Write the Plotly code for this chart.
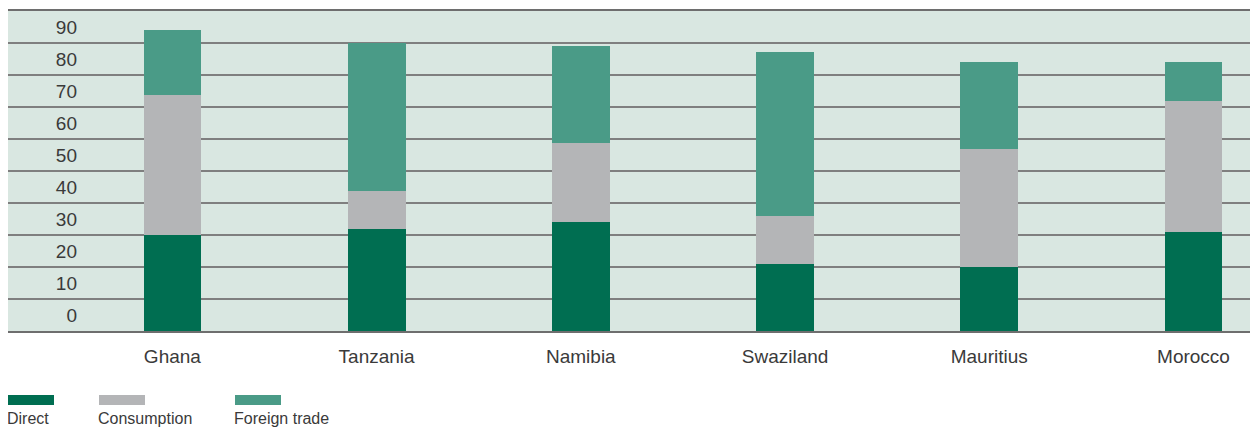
import plotly.graph_objects as go

countries = ["Ghana", "Tanzania", "Namibia", "Swaziland", "Mauritius", "Morocco"]
direct = [30.0, 31.9, 34.1, 20.9, 20.0, 30.9]
consumption = [43.8, 11.9, 24.7, 15.0, 36.9, 41.0]
foreign_trade = [20.3, 46.2, 30.3, 51.3, 27.2, 12.2]
y_ticks = [0, 10, 20, 30, 40, 50, 60, 70, 80, 90, 100]
y_tick_labels = ["0", "10", "20", "30", "40", "50", "60", "70", "80", "90", ""]

series = [
    ("Direct", direct, "#006e51"),
    ("Consumption", consumption, "#b4b5b7"),
    ("Foreign trade", foreign_trade, "#4a9b87"),
]

# page body has an 8px margin; plot area on screen: x 8..1258, y 11..331
W, H = 1250, 420
L, R, T, B = 0, 0, 3, 97
pw, ph = W - L - R, H - T - B
SX0, SY1 = 8, 331  # screen px of plot left / plot bottom


def px_x(sx):
    return (sx - SX0) / pw


def px_y(sy):
    return (SY1 - sy) / ph


TXT = "#3a3a3a"
FONT = "Liberation Sans"

fig = go.Figure()
for name, vals, color in series:
    fig.add_trace(go.Bar(x=countries, y=vals, name=name, marker_color=color,
                         marker_line_width=0, width=0.283, showlegend=False))

# manual legend: swatch above label
legend_x = [8, 99, 235]
shapes = []
annotations = []
for (name, vals, color), lx in zip(series, legend_x):
    shapes.append(dict(type="rect", xref="paper", yref="paper",
                       x0=px_x(lx), x1=px_x(lx + 46),
                       y0=px_y(395), y1=px_y(405),
                       fillcolor=color, line_width=0))
    annotations.append(dict(text=name, xref="paper", yref="paper",
                            x=px_x(lx) - 0.0025, y=px_y(408),
                            xanchor="left", yanchor="top", showarrow=False,
                            font=dict(family=FONT, size=16, color=TXT)))

fig.update_layout(
    width=W, height=H,
    margin=dict(l=L, r=R, t=T, b=B, autoexpand=False),
    barmode="stack",
    paper_bgcolor="white",
    plot_bgcolor="#d9e7e1",
    shapes=shapes,
    annotations=annotations,
    font=dict(family=FONT, size=19, color=TXT),
    xaxis=dict(
        type="category", range=[-0.805, 5.316],
        showgrid=False, showline=True, mirror=True, linecolor="#6e6e6e", linewidth=2,
        ticks="outside", ticklen=7, tickcolor="rgba(0,0,0,0)",
        tickfont=dict(family=FONT, size=19, color=TXT),
        zeroline=False, automargin=False,
    ),
    yaxis=dict(
        range=[0, 100], tickvals=y_ticks, ticktext=y_tick_labels,
        showgrid=True, gridcolor="#7f7f7f", gridwidth=2,
        zeroline=False, showline=False, ticks="",
        ticklabelstandoff=-70, ticklabelshift=-16,
        tickfont=dict(family=FONT, size=19, color=TXT),
        automargin=False,
    ),
)

fig.write_html("out.html")
